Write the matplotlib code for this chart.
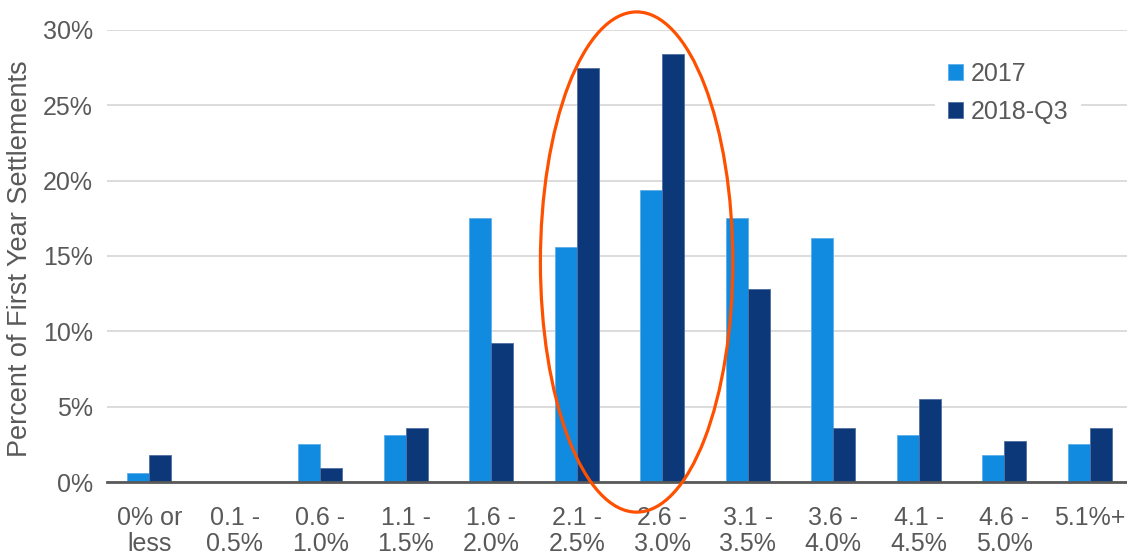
import matplotlib
matplotlib.use("Agg")
import matplotlib.pyplot as plt
from matplotlib.patches import Ellipse
from matplotlib.ticker import FuncFormatter
import numpy as np

categories = ["0% or\nless", "0.1 -\n0.5%", "0.6 -\n1.0%", "1.1 -\n1.5%", "1.6 -\n2.0%",
              "2.1 -\n2.5%", "2.6 -\n3.0%", "3.1 -\n3.5%", "3.6 -\n4.0%", "4.1 -\n4.5%",
              "4.6 -\n5.0%", "5.1%+"]
series_2017 = [0.6, 0.0, 2.5, 3.1, 17.5, 15.6, 19.4, 17.5, 16.2, 3.1, 1.8, 2.5]
series_2018q3 = [1.8, 0.0, 0.9, 3.6, 9.2, 27.5, 28.4, 12.8, 3.6, 5.5, 2.7, 3.6]
series_names = ["2017", "2018-Q3"]
y_ticks = [0, 5, 10, 15, 20, 25, 30]

LIGHT = "#118BDF"
DARK = "#0C3779"
TEXT = "#595959"

plt.rcParams["font.family"] = ["Liberation Sans", "DejaVu Sans"]

fig = plt.figure(figsize=(11.27, 5.56), dpi=100)
ax = fig.add_axes([106.5 / 1127, 74 / 556, 1 - 106.5 / 1127, (482 - 30) / 556])

x = np.arange(len(categories))
w = 0.257
ax.bar(x - w / 2, series_2017, width=w, color=LIGHT, edgecolor="#5FAEEA", linewidth=0.6,
       label=series_names[0], zorder=3)
ax.bar(x + w / 2, series_2018q3, width=w, color=DARK, edgecolor="#4F6FA3", linewidth=0.6,
       label=series_names[1], zorder=3)

ax.set_xlim(-0.5, -0.5 + (1127 - 106.5) / 85.5)
ax.set_ylim(0, 30)
ax.set_yticks(y_ticks)
ax.yaxis.set_major_formatter(FuncFormatter(lambda v, p: f"{v:.0f}%"))
ax.set_xticks(x)
ax.set_xticklabels(categories, linespacing=1.15)

ax.grid(axis="y", color="#D9D9D9", linewidth=1.3, zorder=0)
ax.set_axisbelow(True)
for side in ["top", "right", "left"]:
    ax.spines[side].set_visible(False)
ax.spines["bottom"].set_color("#595959")
ax.spines["bottom"].set_linewidth(2.0)
ax.spines["bottom"].set_zorder(4)

ax.tick_params(axis="both", length=0, colors=TEXT, labelsize=18)
ax.tick_params(axis="x", pad=17)
ax.tick_params(axis="y", pad=9.7)

ax.set_ylabel("Percent of First Year Settlements", fontsize=19.5, color=TEXT)
ax.yaxis.set_label_coords(-0.072, 0.493)

leg = ax.legend(loc="upper left", bbox_to_anchor=(0.8, 0.984), frameon=True,
                facecolor="white", edgecolor="none", framealpha=1, fontsize=18,
                handlelength=0.6, handleheight=0.6, handletextpad=0.3,
                labelspacing=0.55, borderpad=0.5)
for t in leg.get_texts():
    t.set_color(TEXT)

# highlight around the 2.1% - 3.0% bins
ell = Ellipse((5.70, 14.6), width=2.25, height=33.2, fill=False, edgecolor="#FF5000",
              linewidth=2.3, clip_on=False, zorder=5)
ax.add_patch(ell)

fig.savefig("out.png", dpi=100)
